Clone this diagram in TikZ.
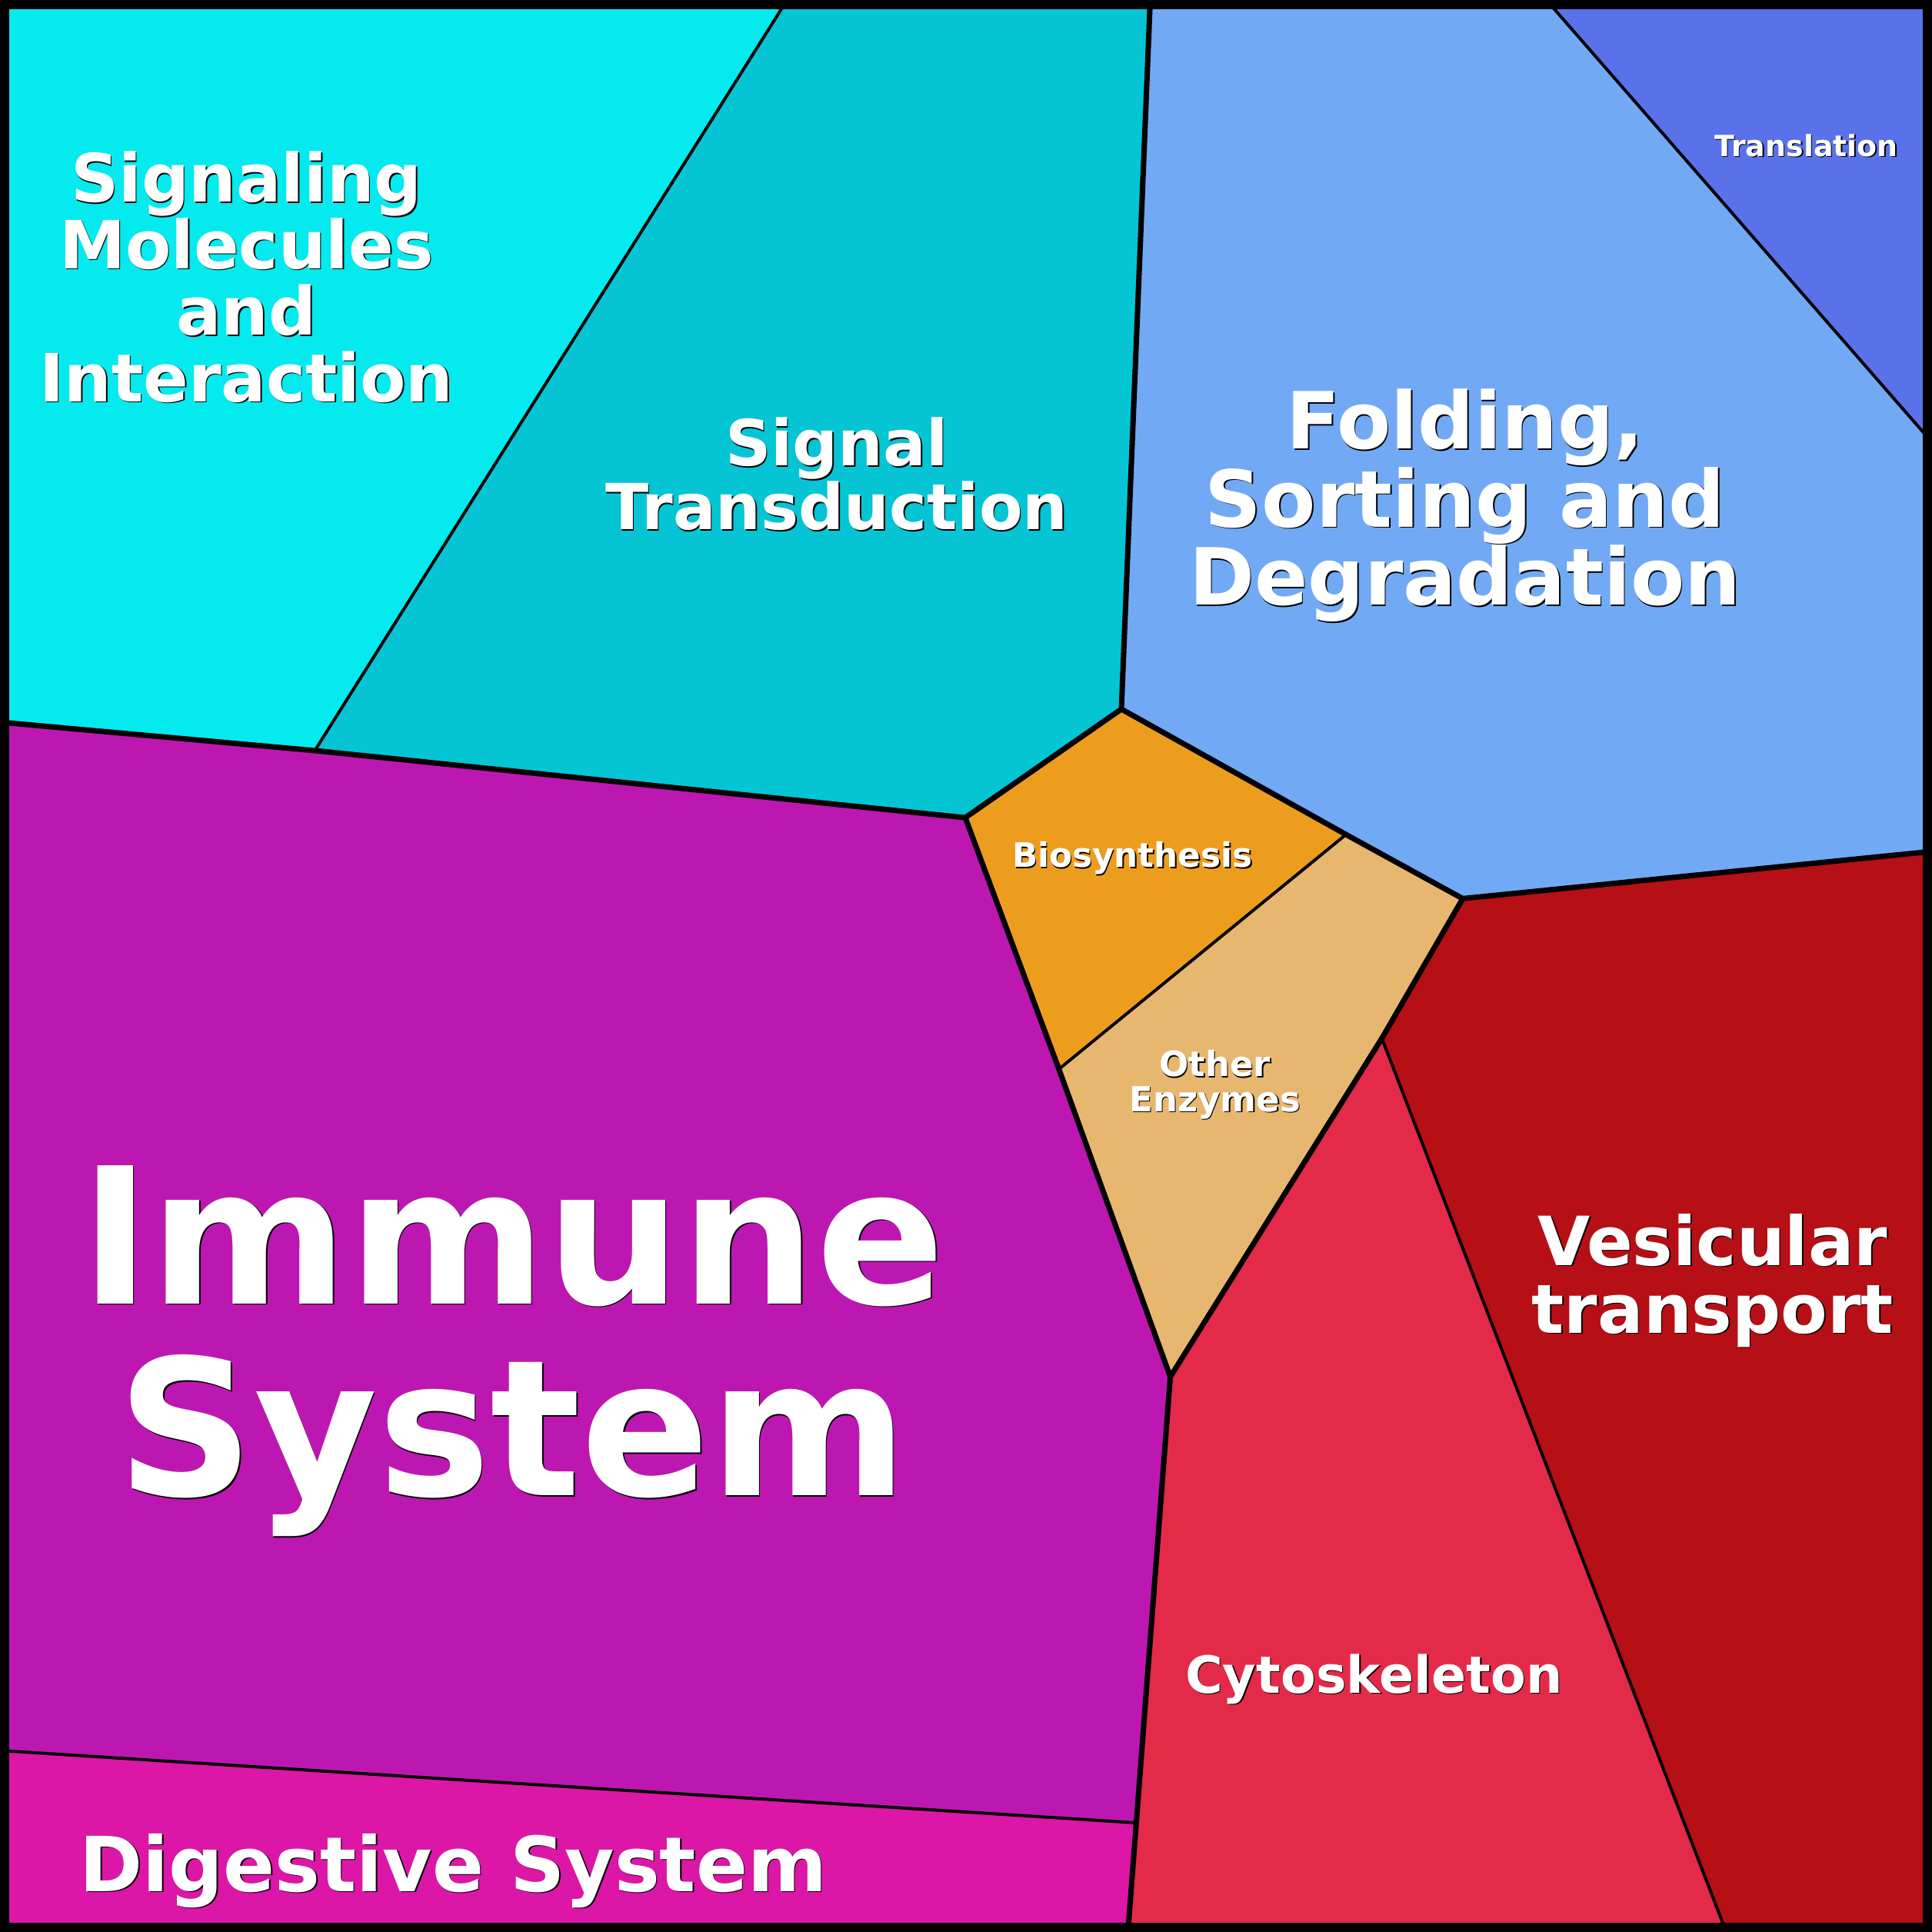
\documentclass[tikz,border=0pt]{standalone}
\usepackage{fontspec}
\setmainfont{DejaVu Sans}
\definecolor{cSig}{RGB}{5,234,238}
\definecolor{cTra}{RGB}{5,197,212}
\definecolor{cFol}{RGB}{113,169,245}
\definecolor{cTrl}{RGB}{90,114,233}
\definecolor{cBio}{RGB}{237,157,30}
\definecolor{cOth}{RGB}{231,183,111}
\definecolor{cImm}{RGB}{189,23,178}
\definecolor{cDig}{RGB}{220,22,166}
\definecolor{cCyt}{RGB}{228,42,73}
\definecolor{cVes}{RGB}{182,15,22}
\newcommand\shd[1]{\leavevmode\rlap{\kern0.35pt\raisebox{-0.35pt}{\color{black}#1}}#1}
\begin{document}
\begin{tikzpicture}[x=0.0127551cm, y=-0.0127551cm,
  thickln/.style={line width=1.59pt, line join=miter},
  thinln/.style={line width=0.9pt},
  lbl/.style={text=white, inner sep=0pt, anchor=base, align=center}]
\useasboundingbox (0,0) rectangle (1568,1568);
% vertices
\coordinate (TL) at (0,0);
\coordinate (TR) at (1568,0);
\coordinate (BR) at (1568,1568);
\coordinate (BL) at (0,1568);
\coordinate (A) at (638.8,0);
\coordinate (B) at (933.5,0);
\coordinate (C) at (1255,0);
\coordinate (D) at (1568,359);
\coordinate (E) at (1568,691);
\coordinate (F) at (1401,1568);
\coordinate (G) at (915.4,1568);
\coordinate (H) at (0,1420.7);
\coordinate (I) at (0,586.1);
\coordinate (J) at (255.5,609.2);
\coordinate (K) at (783.4,663.6);
\coordinate (L) at (910.1,575.5);
\coordinate (M) at (1092.4,677.3);
\coordinate (N) at (1187.1,729.3);
\coordinate (O) at (1121.5,842.7);
\coordinate (P) at (949.8,1117.4);
\coordinate (Q) at (859.4,867.7);
\coordinate (R) at (922.2,1479.4);
% cells
\fill[cSig] (TL) -- (A) -- (J) -- (I) -- cycle;
\fill[cTra] (A) -- (B) -- (L) -- (K) -- (J) -- cycle;
\fill[cFol] (B) -- (C) -- (D) -- (E) -- (N) -- (M) -- (L) -- cycle;
\fill[cTrl] (C) -- (TR) -- (D) -- cycle;
\fill[cBio] (L) -- (M) -- (Q) -- (K) -- cycle;
\fill[cOth] (M) -- (N) -- (O) -- (P) -- (Q) -- cycle;
\fill[cImm] (I) -- (J) -- (K) -- (Q) -- (P) -- (R) -- (H) -- cycle;
\fill[cDig] (H) -- (R) -- (G) -- (BL) -- cycle;
\fill[cCyt] (P) -- (O) -- (F) -- (G) -- (R) -- cycle;
\fill[cVes] (N) -- (E) -- (BR) -- (F) -- (O) -- cycle;
% thin borders
\draw[thinln] (A) -- (J);
\draw[thinln] (C) -- (D);
\draw[thinln] (M) -- (Q);
\draw[thinln] (O) -- (F);
\draw[thinln] (H) -- (R);
% thick borders
\draw[thickln] (I) -- (J) -- (K) -- (L) -- (B);
\draw[thickln] (L) -- (M) -- (N) -- (E);
\draw[thickln] (N) -- (O) -- (P) -- (Q) -- (K);
\draw[thickln] (P) -- (R) -- (G);
% outer frame
\draw[line width=2.72pt] (3.75,3.75) rectangle (1564.25,1564.25);
% labels (anchor = baseline of last line)
\node[lbl, font=\fontsize{19.6}{19.6}\selectfont\bfseries] (tSig) at (200,326)
  {\shd{Signaling}\\\shd{Molecules}\\\shd{and}\\\shd{Interaction}};
\node[lbl, font=\fontsize{18.7}{18.9}\selectfont\bfseries] (tTra) at (679,430)
  {\shd{Signal}\\\shd{Transduction}};
\node[lbl, font=\fontsize{23.2}{23.0}\selectfont\bfseries] (tFol) at (1189,491)
  {\shd{Folding,}\\\shd{Sorting and}\\\shd{Degradation}};
\node[lbl, font=\fontsize{8.6}{8.6}\selectfont\bfseries] (tTrl) at (1466,127)
  {\shd{Translation}};
\node[lbl, font=\fontsize{9.9}{9.9}\selectfont\bfseries] (tBio) at (919,704)
  {\shd{Biosynthesis}};
\node[lbl, font=\fontsize{10.2}{10.3}\selectfont\bfseries] (tOth) at (986,902)
  {\shd{Other}\\\shd{Enzymes}};
\node[lbl, font=\fontsize{20}{20}\selectfont\bfseries] (tVes) at (1390,1082)
  {\shd{Vesicular}\\\shd{transport}};
\node[lbl, font=\fontsize{15.1}{15.1}\selectfont\bfseries] (tCyt) at (1115,1374)
  {\shd{Cytoskeleton}};
\node[lbl, font=\fontsize{55.9}{56.6}\selectfont\bfseries] (tImm) at (416,1214)
  {\shd{Immune}\\\shd{System}};
\node[lbl, font=\fontsize{22.4}{22.4}\selectfont\bfseries] (tDig) at (368,1535)
  {\shd{Digestive System}};
\end{tikzpicture}
\end{document}
